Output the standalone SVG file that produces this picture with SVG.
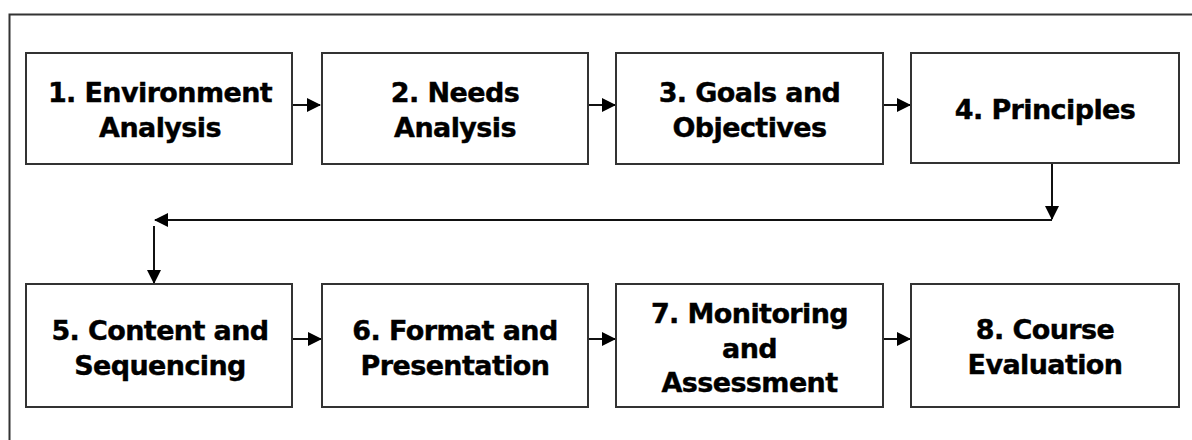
<svg xmlns="http://www.w3.org/2000/svg" width="1192" height="440" viewBox="0 0 1192 440">
<style>
.box{fill:#fff;stroke:#333;stroke-width:2}
.lbl{font-family:"DejaVu Sans",Verdana,sans-serif;font-weight:bold;font-size:27px;letter-spacing:-0.6px;fill:#000;stroke:#000;stroke-width:0.4;text-anchor:middle}
.con{fill:none;stroke:#111;stroke-width:2}
</style>
<defs>
<marker id="ahb" markerWidth="14" markerHeight="14" refX="13" refY="7" orient="auto" markerUnits="userSpaceOnUse" viewBox="0 0 14 14">
<path d="M0,0 L14,7 L0,14 Z" fill="#000"/>
</marker>
</defs>
<rect x="0" y="0" width="1192" height="440" fill="#fff"/>
<path d="M9.5,460 L9.5,14.5 L1200,14.5" fill="none" stroke="#333" stroke-width="2"/>
<g id="connectors">
<line class="con" x1="292" y1="105" x2="320" y2="105" marker-end="url(#ahb)"/>
<line class="con" x1="588" y1="105" x2="615" y2="105" marker-end="url(#ahb)"/>
<line class="con" x1="883" y1="105" x2="910" y2="105" marker-end="url(#ahb)"/>
<line class="con" x1="1052" y1="163" x2="1052" y2="219" marker-end="url(#ahb)"/>
<line class="con" x1="1052" y1="220" x2="155" y2="220" marker-end="url(#ahb)"/>
<line class="con" x1="154" y1="226" x2="154" y2="283" marker-end="url(#ahb)"/>
<line class="con" x1="292" y1="339" x2="321" y2="339" marker-end="url(#ahb)"/>
<line class="con" x1="588" y1="339" x2="615" y2="339" marker-end="url(#ahb)"/>
<line class="con" x1="883" y1="339" x2="910" y2="339" marker-end="url(#ahb)"/>
</g>
<g id="n1"><rect class="box" x="26" y="53" width="266" height="111"/>
<text class="lbl" x="160" y="102">1. Environment</text><text class="lbl" x="160" y="137">Analysis</text></g>
<g id="n2"><rect class="box" x="322" y="53" width="266" height="111"/>
<text class="lbl" x="455" y="102">2. Needs</text><text class="lbl" x="455" y="137">Analysis</text></g>
<g id="n3"><rect class="box" x="616" y="53" width="267" height="111"/>
<text class="lbl" x="749.5" y="102">3. Goals and</text><text class="lbl" x="749.5" y="137">Objectives</text></g>
<g id="n4"><rect class="box" x="911" y="53" width="268" height="110"/>
<text class="lbl" x="1045" y="119">4. Principles</text></g>
<g id="n5"><rect class="box" x="26" y="284" width="266" height="123"/>
<text class="lbl" x="160" y="340">5. Content and</text><text class="lbl" x="160" y="375">Sequencing</text></g>
<g id="n6"><rect class="box" x="322" y="284" width="266" height="123"/>
<text class="lbl" x="455" y="340">6. Format and</text><text class="lbl" x="455" y="375">Presentation</text></g>
<g id="n7"><rect class="box" x="616" y="284" width="267" height="123"/>
<text class="lbl" x="749.5" y="323">7. Monitoring</text><text class="lbl" x="749.5" y="358">and</text><text class="lbl" x="749.5" y="392">Assessment</text></g>
<g id="n8"><rect class="box" x="911" y="284" width="268" height="123"/>
<text class="lbl" x="1045" y="339">8. Course</text><text class="lbl" x="1045" y="374">Evaluation</text></g>
</svg>
